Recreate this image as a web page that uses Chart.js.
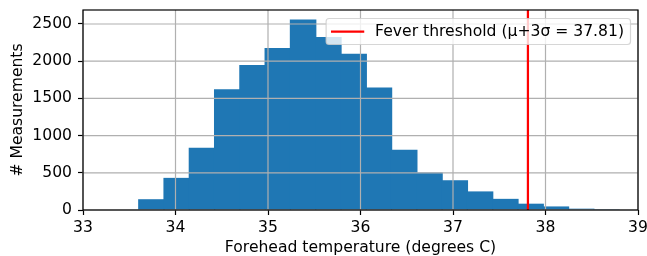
<!DOCTYPE html>
<html>
<head>
<meta charset="utf-8">
<script src="https://cdn.jsdelivr.net/npm/chart.js@4.4.0/dist/chart.umd.min.js"></script>
<style>
    html, body { margin: 0; padding: 0; background: #fff; }
    #wrap { width: 647px; height: 256px; }
</style>
</head>
<body>
<div id="wrap"><canvas id="histChart"></canvas></div>
<script>
// histogram bins (degrees C) and counts
const binEdges = [33.6030, 33.8763, 34.1496, 34.4229, 34.6962, 34.9695, 35.2428, 35.5161, 35.7894, 36.0627,
                  36.3360, 36.6093, 36.8826, 37.1559, 37.4292, 37.7025, 37.9758, 38.2491, 38.5224, 38.7957];
const counts = [145, 432, 838, 1622, 1950, 2178, 2560, 2325, 2100, 1648,
                810, 505, 400, 250, 150, 85, 48, 18, 12];
const threshold = 37.81;
const thresholdLabel = 'Fever threshold (μ+3σ = 37.81)';
const xTickValues = [33, 34, 35, 36, 37, 38, 39];
const yTickValues = [0, 500, 1000, 1500, 2000, 2500];
const xTitle = 'Forehead temperature (degrees C)';
const yTitle = '# Measurements';

const FONT = "'DejaVu Sans', sans-serif";
const FSIZE = 15.6;
const yMax = Math.max(...counts) * 1.05;

const barData = counts.map((c, i) => ({ x: (binEdges[i] + binEdges[i + 1]) / 2, y: c }));
const lineData = [{ x: threshold, y: 0 }, { x: threshold, y: yMax }];

// grid goes above the bars but under the red line (matplotlib order)
const gridPlugin = {
    id: 'gridPlugin',
    beforeDatasetDraw(chart, args) {
        if (args.meta.type !== 'line') return;
        const { ctx, chartArea: a, scales: { x, y } } = chart;
        ctx.save();
        ctx.strokeStyle = '#b0b0b0';
        ctx.lineWidth = 1.2;
        ctx.beginPath();
        x.ticks.forEach(t => {
            const px = x.getPixelForValue(t.value);
            ctx.moveTo(px, a.top);
            ctx.lineTo(px, a.bottom);
        });
        y.ticks.forEach(t => {
            const py = y.getPixelForValue(t.value);
            ctx.moveTo(a.left, py);
            ctx.lineTo(a.right, py);
        });
        ctx.stroke();
        ctx.restore();
    }
};

// spines and the boxed legend in the top right corner
const framePlugin = {
    id: 'framePlugin',
    afterDatasetsDraw(chart) {
        const { ctx, chartArea: a } = chart;
        ctx.save();
        ctx.strokeStyle = '#000';
        ctx.lineWidth = 1.2;
        ctx.strokeRect(a.left, a.top, a.right - a.left, a.bottom - a.top);

        ctx.font = FSIZE + 'px ' + FONT;
        const label = chart.data.datasets[0].label;
        const textW = ctx.measureText(label).width;
        const boxW = 6 + 31 + 12 + textW + 6.5;
        const boxH = 26;
        const boxR = a.right - 7.5;
        const boxL = boxR - boxW;
        const boxT = a.top + 8.5;
        ctx.beginPath();
        ctx.roundRect(boxL, boxT, boxW, boxH, 3);
        ctx.fillStyle = 'rgba(255,255,255,0.8)';
        ctx.fill();
        ctx.strokeStyle = 'rgba(204,204,204,0.8)';
        ctx.lineWidth = 1.2;
        ctx.stroke();

        const cy = boxT + boxH / 2;
        ctx.strokeStyle = 'red';
        ctx.lineWidth = 2.25;
        ctx.lineCap = 'square';
        ctx.beginPath();
        ctx.moveTo(boxL + 6, cy);
        ctx.lineTo(boxL + 37, cy);
        ctx.stroke();

        ctx.fillStyle = '#000';
        ctx.textBaseline = 'middle';
        ctx.textAlign = 'left';
        ctx.fillText(label, boxL + 49, cy + 0.5);
        ctx.restore();
    }
};

function fixAxis(scale) {
    scale.paddingLeft = 0;
    scale.paddingRight = 0;
    scale.paddingTop = 0;
    scale.paddingBottom = 0;
}

new Chart(document.getElementById('histChart'), {
    type: 'bar',
    data: {
        datasets: [
            {
                type: 'line',
                label: thresholdLabel,
                data: lineData,
                borderColor: 'red',
                borderWidth: 2.25,
                pointRadius: 0,
                fill: false
            },
            {
                type: 'bar',
                label: 'counts',
                data: barData,
                backgroundColor: '#1f77b4',
                borderWidth: 0,
                barPercentage: 1.05,
                categoryPercentage: 1.0,
                grouped: false
            }
        ]
    },
    options: {
        responsive: true,
        maintainAspectRatio: false,
        animation: false,
        layout: { padding: { left: 0, right: 9, top: 10, bottom: 0 } },
        plugins: {
            legend: { display: false },
            tooltip: { enabled: false }
        },
        scales: {
            x: {
                type: 'linear',
                offset: false,
                min: xTickValues[0],
                max: xTickValues[xTickValues.length - 1],
                afterBuildTicks: s => { s.ticks = xTickValues.map(v => ({ value: v })); },
                afterFit: s => { s.height = 46; fixAxis(s); },
                grid: { offset: false, drawOnChartArea: false, drawTicks: true, tickLength: 5, tickColor: '#000', tickWidth: 1.2 },
                border: { display: false },
                ticks: { color: '#000', font: { family: FONT, size: FSIZE }, padding: 4, maxRotation: 0, autoSkip: false,
                         callback: v => String(v) },
                title: { display: true, text: xTitle, color: '#000', font: { family: FONT, size: FSIZE }, padding: { top: 0, bottom: -1.5 } }
            },
            y: {
                type: 'linear',
                min: 0,
                max: yMax,
                afterBuildTicks: s => { s.ticks = yTickValues.map(v => ({ value: v })); },
                afterFit: s => { s.width = 83; fixAxis(s); },
                grid: { drawOnChartArea: false, drawTicks: true, tickLength: 5, tickColor: '#000', tickWidth: 1.2 },
                border: { display: false },
                ticks: { color: '#000', font: { family: FONT, size: FSIZE }, padding: 6, autoSkip: false,
                         callback: v => String(v) },
                title: { display: true, text: yTitle, color: '#000', font: { family: FONT, size: FSIZE }, padding: { top: 8.5, bottom: 0 } }
            }
        }
    },
    plugins: [gridPlugin, framePlugin]
});
</script>
</body>
</html>
